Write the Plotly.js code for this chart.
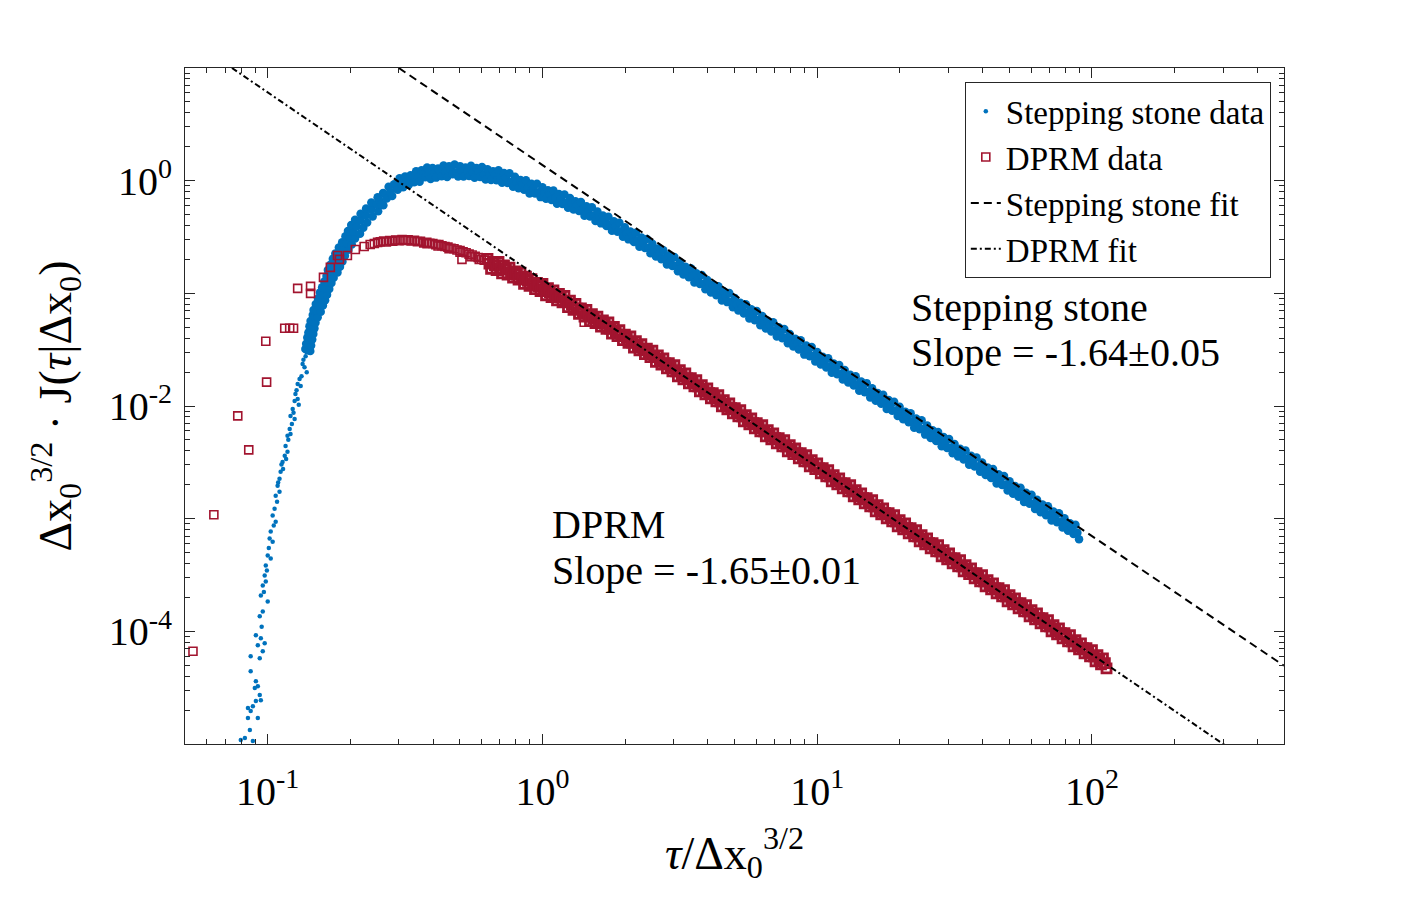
<!DOCTYPE html>
<html>
<head>
<meta charset="utf-8">
<script src="https://cdn.plot.ly/plotly-3.0.1.min.js"></script>
<style>
  body { margin: 0; background: #fff; }
  #plot { width: 1420px; height: 901px; }
</style>
</head>
<body>
<div id="plot"></div>
<script>
// values, kept as log10 of tau/dx^1.5 and of the scaled J

// stepping stone: the sparse dots of the steep rise
var ssSparseLogTau = [
  -0.851,-0.862,-0.873,-0.866,-0.884,-0.891,-0.880,-0.899,
  -0.891,-0.902,-0.909,-0.917,-0.902,-0.920,-0.928,-0.917,
  -0.935,-0.928,-0.938,-0.946,-0.953,-0.957,-0.964,-0.957,
  -0.971,-0.975,-0.982,-0.971,-0.989,-0.993,-0.982,-1.000,
  -0.989,-1.007,-1.011,-1.007,-1.018,-1.025,-1.000,-1.018,
  -1.029,-1.043,-1.025,-1.036,-1.011,-1.018,-1.029,-1.062,
  -1.062,-1.043,-1.036,-1.047,-1.029,-1.025,-1.043,-1.072,
  -1.062,-1.054,-1.072,-1.036,-1.065,-1.083,-1.098,-1.054,
  -0.870,-0.858,-0.877,-0.895,-0.887,-0.906,-0.912,-0.925,-0.933,
  -0.944,-0.950,-0.962,-0.966,-0.978,-0.996,-1.003,-1.014,-1.022
];
var ssSparseLogJ = [
  -1.522,-1.558,-1.628,-1.655,-1.761,-1.805,-1.823,-1.894,
  -1.938,-1.956,-2.027,-2.088,-2.115,-2.204,-2.265,-2.248,
  -2.354,-2.407,-2.442,-2.496,-2.584,-2.646,-2.708,-2.761,
  -2.796,-2.912,-2.973,-3.027,-3.115,-3.177,-3.204,-3.327,
  -3.354,-3.416,-3.504,-3.558,-3.593,-3.681,-3.735,-3.823,
  -3.867,-4.035,-4.062,-4.124,-4.106,-4.177,-4.239,-4.221,
  -4.354,-4.442,-4.487,-4.504,-4.566,-4.611,-4.619,-4.681,
  -4.708,-4.664,-4.770,-4.770,-4.876,-4.947,-4.965,-4.973,
  -1.590,-1.700,-1.735,-1.860,-1.990,-2.060,-2.160,-2.300,-2.470,
  -2.560,-2.520,-2.680,-2.850,-3.060,-3.260,-3.460,-3.650,-3.960
];

// stepping stone: the dense band (steep part, then 3 points per step)
var ssBandLogTau = [
  -0.863,-0.855,-0.845, -0.860,-0.852,-0.842, -0.856,-0.848,-0.838,
  -0.852,-0.844,-0.834, -0.848,-0.840,-0.830, -0.844,-0.836,-0.826,
  -0.836,-0.828,-0.818, -0.833,-0.821,-0.807, -0.825,-0.813,-0.799,
  -0.817,-0.805,-0.791, -0.810,-0.798,-0.784, -0.802,-0.790,-0.776,
  -0.794,-0.782,-0.768, -0.786,-0.774,-0.760, -0.781,-0.765,-0.746,
  -0.772,-0.756,-0.737, -0.763,-0.747,-0.728, -0.754,-0.738,-0.719,
  -0.741,-0.725,-0.706, -0.729,-0.713,-0.694, -0.717,-0.701,-0.682,
  -0.708,-0.688,-0.664, -0.696,-0.676,-0.652, -0.682,-0.662,-0.638,
  -0.662,-0.642,-0.618, -0.642,-0.622,-0.598, -0.623,-0.603,-0.579,
  -0.600,-0.593,-0.587, -0.580,-0.573,-0.567, -0.560,-0.553,-0.547, -0.540,-0.533,-0.527,
  -0.520,-0.513,-0.507, -0.500,-0.493,-0.487, -0.480,-0.473,-0.467, -0.460,-0.453,-0.447,
  -0.440,-0.433,-0.427, -0.420,-0.413,-0.407, -0.400,-0.393,-0.387, -0.380,-0.373,-0.367,
  -0.360,-0.353,-0.347, -0.340,-0.333,-0.327, -0.320,-0.313,-0.307, -0.300,-0.293,-0.287,
  -0.280,-0.273,-0.267, -0.260,-0.253,-0.247, -0.240,-0.233,-0.227, -0.220,-0.213,-0.207,
  -0.200,-0.193,-0.187, -0.180,-0.173,-0.167, -0.160,-0.153,-0.147, -0.140,-0.133,-0.127,
  -0.120,-0.113,-0.107, -0.100,-0.093,-0.087, -0.080,-0.073,-0.067, -0.060,-0.053,-0.047,
  -0.040,-0.033,-0.027, -0.020,-0.013,-0.007, 0.000,0.007,0.013, 0.020,0.027,0.033,
  0.040,0.047,0.053, 0.060,0.067,0.073, 0.080,0.087,0.093, 0.100,0.107,0.113,
  0.120,0.127,0.133, 0.140,0.147,0.153, 0.160,0.167,0.173, 0.180,0.187,0.193,
  0.200,0.207,0.213, 0.220,0.227,0.233, 0.240,0.247,0.253, 0.260,0.267,0.273,
  0.280,0.287,0.293, 0.300,0.307,0.313, 0.320,0.327,0.333, 0.340,0.347,0.353,
  0.360,0.367,0.373, 0.380,0.387,0.393, 0.400,0.407,0.413, 0.420,0.427,0.433,
  0.440,0.447,0.453, 0.460,0.467,0.473, 0.480,0.487,0.493, 0.500,0.507,0.513,
  0.520,0.527,0.533, 0.540,0.547,0.553, 0.560,0.567,0.573, 0.580,0.587,0.593,
  0.600,0.607,0.613, 0.620,0.627,0.633, 0.640,0.647,0.653, 0.660,0.667,0.673,
  0.680,0.687,0.693, 0.700,0.707,0.713, 0.720,0.727,0.733, 0.740,0.747,0.753,
  0.760,0.767,0.773, 0.780,0.787,0.793, 0.800,0.807,0.813, 0.820,0.827,0.833,
  0.840,0.847,0.853, 0.860,0.867,0.873, 0.880,0.887,0.893, 0.900,0.907,0.913,
  0.920,0.927,0.933, 0.940,0.947,0.953, 0.960,0.967,0.973, 0.980,0.987,0.993,
  1.000,1.007,1.013, 1.020,1.027,1.033, 1.040,1.047,1.053, 1.060,1.067,1.073,
  1.080,1.087,1.093, 1.100,1.107,1.113, 1.120,1.127,1.133, 1.140,1.147,1.153,
  1.160,1.167,1.173, 1.180,1.187,1.193, 1.200,1.207,1.213, 1.220,1.227,1.233,
  1.240,1.247,1.253, 1.260,1.267,1.273, 1.280,1.287,1.293, 1.300,1.307,1.313,
  1.320,1.327,1.333, 1.340,1.347,1.353, 1.360,1.367,1.373, 1.380,1.387,1.393,
  1.400,1.407,1.413, 1.420,1.427,1.433, 1.440,1.447,1.453, 1.460,1.467,1.473,
  1.480,1.487,1.493, 1.500,1.507,1.513, 1.520,1.527,1.533, 1.540,1.547,1.553,
  1.560,1.567,1.573, 1.580,1.587,1.593, 1.600,1.607,1.613, 1.620,1.627,1.633,
  1.640,1.647,1.653, 1.660,1.667,1.673, 1.680,1.687,1.693, 1.700,1.707,1.713,
  1.720,1.727,1.733, 1.740,1.747,1.753, 1.760,1.767,1.773, 1.780,1.787,1.793,
  1.800,1.807,1.813, 1.820,1.827,1.833, 1.840,1.847,1.853, 1.860,1.867,1.873,
  1.880,1.887,1.893, 1.900,1.907,1.913, 1.920,1.927,1.933, 1.940,1.947,1.953
];
var ssBandLogJ = [
  -1.495,-1.505,-1.512, -1.448,-1.455,-1.462, -1.393,-1.405,-1.409,
  -1.347,-1.352,-1.361, -1.292,-1.306,-1.311, -1.246,-1.253,-1.262,
  -1.193,-1.207,-1.212, -1.147,-1.154,-1.163, -1.094,-1.106,-1.108,
  -1.046,-1.053,-1.062, -0.993,-1.006,-1.012, -0.947,-0.953,-0.961,
  -0.894,-0.906,-0.908, -0.846,-0.853,-0.862, -0.793,-0.806,-0.816,
  -0.747,-0.754,-0.763, -0.694,-0.706,-0.717, -0.646,-0.653,-0.666,
  -0.593,-0.606,-0.614, -0.547,-0.554,-0.567, -0.494,-0.506,-0.513,
  -0.446,-0.453,-0.472, -0.393,-0.406,-0.418, -0.347,-0.354,-0.372,
  -0.294,-0.306,-0.318, -0.247,-0.254,-0.271, -0.194,-0.206,-0.219,
  -0.148,-0.179,-0.212, -0.110,-0.123,-0.158, -0.055,-0.100,-0.135, -0.031,-0.053,-0.080,
  0.022,-0.031,-0.058, 0.038,0.000,-0.039, 0.047,0.027,-0.014, 0.084,0.032,-0.009,
  0.092,0.063,0.030, 0.116,0.052,0.015, 0.112,0.070,0.027, 0.109,0.085,0.040,
  0.134,0.078,0.033, 0.128,0.095,0.058, 0.143,0.075,0.036, 0.129,0.083,0.038,
  0.117,0.089,0.042, 0.133,0.073,0.026, 0.113,0.074,0.033, 0.122,0.052,0.011,
  0.101,0.053,0.006, 0.083,0.053,0.004, 0.093,0.031,-0.018, 0.067,0.024,-0.020,
  0.065,-0.009,-0.053, 0.034,-0.018,-0.068, 0.005,-0.029,-0.081, 0.004,-0.062,-0.114,
  -0.027,-0.070,-0.114, -0.028,-0.102,-0.146, -0.058,-0.110,-0.160, -0.086,-0.120,-0.172,
  -0.087,-0.153,-0.205, -0.119,-0.162,-0.206, -0.122,-0.196,-0.240, -0.153,-0.205,-0.255,
  -0.183,-0.217,-0.269, -0.189,-0.257,-0.311, -0.227,-0.272,-0.318, -0.236,-0.312,-0.358,
  -0.273,-0.327,-0.379, -0.310,-0.347,-0.402, -0.320,-0.389,-0.444, -0.361,-0.407,-0.454,
  -0.373,-0.450,-0.497, -0.413,-0.468,-0.521, -0.452,-0.489,-0.544, -0.462,-0.531,-0.586,
  -0.504,-0.550,-0.597, -0.517,-0.595,-0.644, -0.561,-0.617,-0.672, -0.603,-0.641,-0.698,
  -0.617,-0.687,-0.744, -0.662,-0.709,-0.758, -0.677,-0.755,-0.804, -0.721,-0.777,-0.832,
  -0.763,-0.801,-0.858, -0.777,-0.847,-0.904, -0.822,-0.869,-0.918, -0.837,-0.915,-0.964,
  -0.881,-0.937,-0.992, -0.923,-0.961,-1.018, -0.937,-1.007,-1.064, -0.982,-1.029,-1.078,
  -0.997,-1.075,-1.124, -1.041,-1.097,-1.152, -1.083,-1.121,-1.178, -1.097,-1.167,-1.224,
  -1.142,-1.189,-1.238, -1.157,-1.235,-1.284, -1.201,-1.257,-1.312, -1.243,-1.281,-1.338,
  -1.257,-1.327,-1.384, -1.302,-1.349,-1.398, -1.317,-1.395,-1.444, -1.361,-1.417,-1.472,
  -1.403,-1.441,-1.498, -1.417,-1.487,-1.544, -1.462,-1.509,-1.558, -1.477,-1.555,-1.604,
  -1.521,-1.577,-1.632, -1.563,-1.601,-1.658, -1.577,-1.647,-1.704, -1.622,-1.669,-1.718,
  -1.637,-1.715,-1.764, -1.681,-1.737,-1.792, -1.723,-1.761,-1.818, -1.737,-1.807,-1.864,
  -1.782,-1.829,-1.878, -1.797,-1.875,-1.924, -1.842,-1.898,-1.953, -1.885,-1.923,-1.980,
  -1.900,-1.970,-2.027, -1.946,-1.993,-2.042, -1.962,-2.040,-2.089, -2.007,-2.063,-2.118,
  -2.050,-2.088,-2.145, -2.065,-2.135,-2.192, -2.111,-2.158,-2.207, -2.127,-2.205,-2.254,
  -2.172,-2.228,-2.283, -2.215,-2.253,-2.310, -2.230,-2.300,-2.357, -2.276,-2.323,-2.372,
  -2.292,-2.370,-2.419, -2.337,-2.393,-2.448, -2.380,-2.418,-2.475, -2.395,-2.465,-2.522,
  -2.441,-2.488,-2.537, -2.457,-2.535,-2.584, -2.502,-2.558,-2.613, -2.545,-2.583,-2.640,
  -2.560,-2.630,-2.687, -2.606,-2.653,-2.702, -2.622,-2.700,-2.749, -2.667,-2.723,-2.778,
  -2.710,-2.748,-2.805, -2.725,-2.795,-2.852, -2.771,-2.818,-2.867, -2.787,-2.865,-2.914,
  -2.832,-2.888,-2.943, -2.875,-2.913,-2.970, -2.890,-2.960,-3.017, -2.936,-2.983,-3.032,
  -2.952,-3.030,-3.079, -2.997,-3.053,-3.108, -3.040,-3.078,-3.135, -3.055,-3.125,-3.182
];

// DPRM: sparse squares and the single row of overlapping squares
var dprmSparseLogTau = [
  -1.272,-1.196,-1.109,-1.069,-1.004,-1.007,-0.938,-0.920,-0.906,-0.891,-0.844,
  -0.844,-0.797,-0.772,-0.746,-0.739,-0.710,-0.681,-0.649,-0.627,-0.612,
  -0.600,-0.590,-0.578,-0.568,-0.556,-0.545,-0.534,-0.522,-0.511,-0.500,-0.489,-0.478,
  -0.466,-0.455,-0.444,-0.432,-0.421,-0.410,-0.399,-0.388,-0.377,-0.366,-0.355,-0.344,
  -0.333,-0.322,-0.311,-0.300,-0.293,-0.289,-0.278,-0.267,-0.256,-0.245,-0.234,-0.223,-0.212,
  -0.420,-0.380,-0.340,-0.300,-0.260,-0.230,0.152
];
var dprmSparseLogJ = [
  -4.177,-2.965,-2.088,-2.389,-1.788,-1.425,-1.310,-1.310,-1.310,-0.956,-1.000,
  -0.938,-0.858,-0.770,-0.664,-0.699,-0.664,-0.611,-0.584,-0.566,-0.558,
  -0.548,-0.542,-0.536,-0.544,-0.532,-0.538,-0.528,-0.532,-0.522,-0.530,-0.524,-0.536,
  -0.530,-0.541,-0.538,-0.552,-0.548,-0.556,-0.558,-0.568,-0.566,-0.578,-0.584,-0.590,
  -0.600,-0.604,-0.615,-0.620,-0.699,-0.632,-0.640,-0.652,-0.660,-0.672,-0.682,-0.698,-0.705,
  -0.560,-0.580,-0.604,-0.636,-0.675,-0.700,-1.257
];

// DPRM: the dense band, 3 points per step
var dprmBandLogTau = [
  -0.200,-0.193,-0.187, -0.180,-0.173,-0.167, -0.160,-0.153,-0.147, -0.140,-0.133,-0.127,
  -0.120,-0.113,-0.107, -0.100,-0.093,-0.087, -0.080,-0.073,-0.067, -0.060,-0.053,-0.047,
  -0.040,-0.033,-0.027, -0.020,-0.013,-0.007, 0.000,0.007,0.013, 0.020,0.027,0.033,
  0.040,0.047,0.053, 0.060,0.067,0.073, 0.080,0.087,0.093, 0.100,0.107,0.113,
  0.120,0.127,0.133, 0.140,0.147,0.153, 0.160,0.167,0.173, 0.180,0.187,0.193,
  0.200,0.207,0.213, 0.220,0.227,0.233, 0.240,0.247,0.253, 0.260,0.267,0.273,
  0.280,0.287,0.293, 0.300,0.307,0.313, 0.320,0.327,0.333, 0.340,0.347,0.353,
  0.360,0.367,0.373, 0.380,0.387,0.393, 0.400,0.407,0.413, 0.420,0.427,0.433,
  0.440,0.447,0.453, 0.460,0.467,0.473, 0.480,0.487,0.493, 0.500,0.507,0.513,
  0.520,0.527,0.533, 0.540,0.547,0.553, 0.560,0.567,0.573, 0.580,0.587,0.593,
  0.600,0.607,0.613, 0.620,0.627,0.633, 0.640,0.647,0.653, 0.660,0.667,0.673,
  0.680,0.687,0.693, 0.700,0.707,0.713, 0.720,0.727,0.733, 0.740,0.747,0.753,
  0.760,0.767,0.773, 0.780,0.787,0.793, 0.800,0.807,0.813, 0.820,0.827,0.833,
  0.840,0.847,0.853, 0.860,0.867,0.873, 0.880,0.887,0.893, 0.900,0.907,0.913,
  0.920,0.927,0.933, 0.940,0.947,0.953, 0.960,0.967,0.973, 0.980,0.987,0.993,
  1.000,1.007,1.013, 1.020,1.027,1.033, 1.040,1.047,1.053, 1.060,1.067,1.073,
  1.080,1.087,1.093, 1.100,1.107,1.113, 1.120,1.127,1.133, 1.140,1.147,1.153,
  1.160,1.167,1.173, 1.180,1.187,1.193, 1.200,1.207,1.213, 1.220,1.227,1.233,
  1.240,1.247,1.253, 1.260,1.267,1.273, 1.280,1.287,1.293, 1.300,1.307,1.313,
  1.320,1.327,1.333, 1.340,1.347,1.353, 1.360,1.367,1.373, 1.380,1.387,1.393,
  1.400,1.407,1.413, 1.420,1.427,1.433, 1.440,1.447,1.453, 1.460,1.467,1.473,
  1.480,1.487,1.493, 1.500,1.507,1.513, 1.520,1.527,1.533, 1.540,1.547,1.553,
  1.560,1.567,1.573, 1.580,1.587,1.593, 1.600,1.607,1.613, 1.620,1.627,1.633,
  1.640,1.647,1.653, 1.660,1.667,1.673, 1.680,1.687,1.693, 1.700,1.707,1.713,
  1.720,1.727,1.733, 1.740,1.747,1.753, 1.760,1.767,1.773, 1.780,1.787,1.793,
  1.800,1.807,1.813, 1.820,1.827,1.833, 1.840,1.847,1.853, 1.860,1.867,1.873,
  1.880,1.887,1.893, 1.900,1.907,1.913, 1.920,1.927,1.933, 1.940,1.947,1.953,
  1.960,1.967,1.973, 1.980,1.987,1.993, 2.000,2.007,2.013, 2.020,2.027,2.033,
  2.040,2.047,2.053
];
var dprmBandLogJ = [
  -0.694,-0.737,-0.782, -0.720,-0.749,-0.794, -0.722,-0.777,-0.822, -0.752,-0.788,-0.833,
  -0.772,-0.815,-0.860, -0.805,-0.834,-0.879, -0.816,-0.871,-0.916, -0.853,-0.889,-0.934,
  -0.874,-0.917,-0.962, -0.907,-0.936,-0.981, -0.917,-0.972,-1.017, -0.953,-0.989,-1.034,
  -0.974,-1.017,-1.062, -1.006,-1.035,-1.080, -1.022,-1.077,-1.122, -1.065,-1.101,-1.146,
  -1.093,-1.136,-1.181, -1.133,-1.162,-1.207, -1.146,-1.201,-1.246, -1.184,-1.220,-1.265,
  -1.207,-1.250,-1.295, -1.241,-1.270,-1.315, -1.257,-1.312,-1.357, -1.299,-1.335,-1.380,
  -1.327,-1.370,-1.415, -1.366,-1.395,-1.440, -1.382,-1.437,-1.482, -1.425,-1.461,-1.506,
  -1.452,-1.495,-1.540, -1.492,-1.521,-1.566, -1.508,-1.563,-1.608, -1.551,-1.587,-1.632,
  -1.578,-1.621,-1.666, -1.619,-1.648,-1.693, -1.637,-1.692,-1.737, -1.682,-1.718,-1.763,
  -1.711,-1.754,-1.799, -1.752,-1.781,-1.826, -1.770,-1.825,-1.870, -1.815,-1.851,-1.896,
  -1.844,-1.887,-1.932, -1.885,-1.914,-1.959, -1.904,-1.959,-2.004, -1.948,-1.984,-2.029,
  -1.977,-2.020,-2.065, -2.018,-2.047,-2.092, -2.037,-2.092,-2.137, -2.081,-2.117,-2.162,
  -2.110,-2.153,-2.198, -2.152,-2.181,-2.226, -2.170,-2.225,-2.270, -2.214,-2.250,-2.295,
  -2.243,-2.286,-2.331, -2.285,-2.314,-2.359, -2.303,-2.358,-2.403, -2.347,-2.383,-2.428,
  -2.377,-2.420,-2.465, -2.418,-2.447,-2.492, -2.436,-2.491,-2.536, -2.480,-2.516,-2.561,
  -2.510,-2.553,-2.598, -2.551,-2.580,-2.625, -2.569,-2.624,-2.669, -2.614,-2.650,-2.695,
  -2.643,-2.686,-2.731, -2.684,-2.713,-2.758, -2.702,-2.757,-2.802, -2.747,-2.783,-2.828,
  -2.776,-2.819,-2.864, -2.817,-2.846,-2.891, -2.836,-2.891,-2.936, -2.880,-2.916,-2.961,
  -2.909,-2.952,-2.997, -2.950,-2.979,-3.024, -2.969,-3.024,-3.069, -3.013,-3.049,-3.094,
  -3.042,-3.085,-3.130, -3.084,-3.113,-3.158, -3.102,-3.157,-3.202, -3.146,-3.182,-3.227,
  -3.175,-3.218,-3.263, -3.217,-3.246,-3.291, -3.235,-3.290,-3.335, -3.279,-3.315,-3.360,
  -3.309,-3.352,-3.397, -3.350,-3.379,-3.424, -3.368,-3.423,-3.468, -3.412,-3.448,-3.493,
  -3.442,-3.485,-3.530, -3.483,-3.512,-3.557, -3.501,-3.556,-3.601, -3.546,-3.582,-3.627,
  -3.575,-3.618,-3.663, -3.616,-3.645,-3.690, -3.634,-3.689,-3.734, -3.679,-3.715,-3.760,
  -3.708,-3.751,-3.796, -3.749,-3.778,-3.823, -3.768,-3.823,-3.868, -3.812,-3.848,-3.893,
  -3.841,-3.884,-3.929, -3.882,-3.911,-3.956, -3.901,-3.956,-4.001, -3.945,-3.981,-4.026,
  -3.974,-4.017,-4.062, -4.016,-4.045,-4.090, -4.034,-4.089,-4.134, -4.078,-4.114,-4.159,
  -4.107,-4.150,-4.195, -4.149,-4.178,-4.223, -4.167,-4.222,-4.267, -4.211,-4.247,-4.292,
  -4.240,-4.283,-4.328
];

// fitted power laws, end points
var ssFitTau = [0.3, 500];
var ssFitJ = [10, 4.95e-5];
var dprmFitTau = [0.0741, 320];
var dprmFitJ = [10, 9.0e-6];

var xTickVals = [0.1, 1, 10, 100];
var xTickText = ['10<sup>-1</sup>', '10<sup>0</sup>', '10<sup>1</sup>', '10<sup>2</sup>'];
var yTickVals = [1e-5, 1e-4, 1e-3, 1e-2, 1e-1, 1, 10];
var yTickText = ['', '10<sup>-4</sup>', '', '10<sup>-2</sup>', '', '10<sup>0</sup>', ''];

function pow10(arr) {
    return arr.map(function (v) { return Math.pow(10, v); });
}

// minor ticks at 2..9 of every decade
function minorVals(lo, hi) {
    var vals = [];
    for (var e = lo; e <= hi; e++) {
        for (var m = 2; m <= 9; m++) vals.push(m * Math.pow(10, e));
    }
    return vals;
}

var serif = "'Liberation Serif', 'Times New Roman', serif";
var axisColor = '#262626';
var blue = '#0072BD';
var red = '#A2142F';

var traces = [
    {
        x: pow10(ssSparseLogTau), y: pow10(ssSparseLogJ),
        type: 'scatter', mode: 'markers',
        name: 'Stepping stone data', legendgroup: 'ss',
        marker: { color: blue, size: 4.5, line: { width: 0 } }
    },
    {
        x: pow10(ssBandLogTau), y: pow10(ssBandLogJ),
        type: 'scatter', mode: 'markers',
        name: 'Stepping stone data', legendgroup: 'ss', showlegend: false,
        marker: { color: blue, size: 8.5, line: { width: 0 } }
    },
    {
        x: pow10(dprmSparseLogTau), y: pow10(dprmSparseLogJ),
        type: 'scatter', mode: 'markers',
        name: 'DPRM data', legendgroup: 'dprm',
        marker: { symbol: 'square-open', color: red, size: 8, line: { width: 1.6, color: red } }
    },
    {
        x: pow10(dprmBandLogTau), y: pow10(dprmBandLogJ),
        type: 'scatter', mode: 'markers',
        name: 'DPRM data', legendgroup: 'dprm', showlegend: false,
        marker: { symbol: 'square-open', color: red, size: 9, line: { width: 2.8, color: red } }
    },
    {
        x: ssFitTau, y: ssFitJ,
        type: 'scatter', mode: 'lines',
        name: 'Stepping stone fit',
        line: { color: '#000', width: 2, dash: '8px,5px' }
    },
    {
        x: dprmFitTau, y: dprmFitJ,
        type: 'scatter', mode: 'lines',
        name: 'DPRM fit',
        line: { color: '#000', width: 2, dash: '6px,3px,2px,3px' }
    }
];

function axis(extra) {
    var a = {
        type: 'log',
        showgrid: false, zeroline: false,
        showline: true, linecolor: axisColor, linewidth: 1, mirror: 'ticks',
        ticks: 'inside', ticklen: 10, tickwidth: 1, tickcolor: axisColor,
        tickfont: { family: serif, size: 40, color: '#000' },
        tickmode: 'array'
    };
    for (var k in extra) a[k] = extra[k];
    return a;
}

var layout = {
    width: 1420, height: 901,
    margin: { l: 185, r: 136, t: 68, b: 157 },
    paper_bgcolor: '#fff', plot_bgcolor: '#fff',
    font: { family: serif, color: '#000' },
    showlegend: true,
    xaxis: axis({
        range: [Math.log10(0.05), Math.log10(500)],
        tickvals: xTickVals, ticktext: xTickText,
        ticklabelstandoff: 12,
        minor: { tickmode: 'array', tickvals: minorVals(-2, 2), ticks: 'inside', ticklen: 5, tickwidth: 1, tickcolor: axisColor },
        title: { text: '<i>τ</i>/Δx<sub>0</sub><sup>3/2</sup>', font: { family: serif, size: 46, color: '#000' }, standoff: 23 }
    }),
    yaxis: axis({
        range: [-5, 1],
        tickvals: yTickVals, ticktext: yTickText,
        ticklabelstandoff: 4,
        minor: { tickmode: 'array', tickvals: minorVals(-5, 0), ticks: 'inside', ticklen: 5, tickwidth: 1, tickcolor: axisColor },
        title: { text: 'Δx<sub>0</sub><sup>3/2</sup> · J(<i>τ</i>|Δx<sub>0</sub>)', font: { family: serif, size: 46, color: '#000' }, standoff: 22 }
    }),
    legend: {
        x: 0.988, xanchor: 'right', y: 0.979, yanchor: 'top',
        bgcolor: '#fff', bordercolor: axisColor, borderwidth: 1,
        font: { family: serif, size: 33, color: '#000' },
        tracegroupgap: 0
    },
    annotations: [
        { xref: 'paper', yref: 'paper', x: 0.6588, y: 0.6457, xanchor: 'left', yanchor: 'middle', showarrow: false,
          text: 'Stepping stone', font: { family: serif, size: 40, color: '#000' } },
        { xref: 'paper', yref: 'paper', x: 0.6588, y: 0.5791, xanchor: 'left', yanchor: 'middle', showarrow: false,
          text: 'Slope = -1.64±0.05', font: { family: serif, size: 40, color: '#000' } },
        { xref: 'paper', yref: 'paper', x: 0.3321, y: 0.3247, xanchor: 'left', yanchor: 'middle', showarrow: false,
          text: 'DPRM', font: { family: serif, size: 40, color: '#000' } },
        { xref: 'paper', yref: 'paper', x: 0.3321, y: 0.2567, xanchor: 'left', yanchor: 'middle', showarrow: false,
          text: 'Slope = -1.65±0.01', font: { family: serif, size: 40, color: '#000' } }
    ]
};

Plotly.newPlot('plot', traces, layout, { displayModeBar: false, staticPlot: true });
</script>
</body>
</html>
